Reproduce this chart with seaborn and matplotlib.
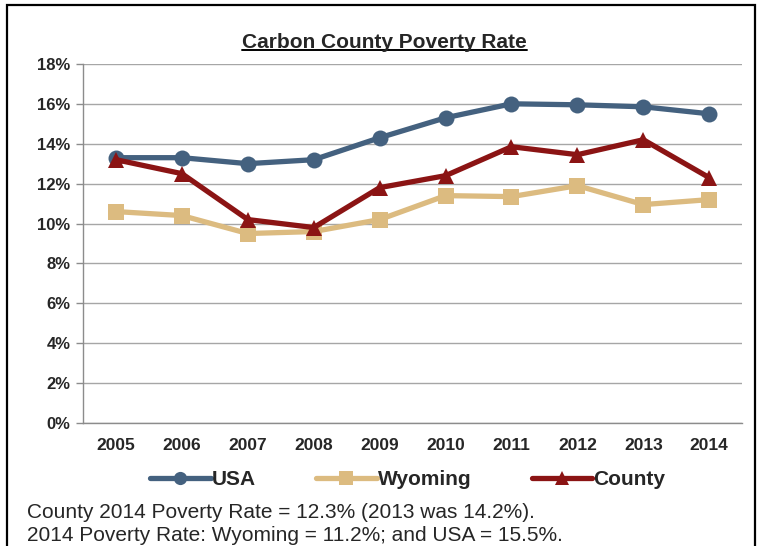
import pandas as pd
import matplotlib.pyplot as plt
import seaborn as sns
from matplotlib.lines import Line2D
from matplotlib.patches import Rectangle
from matplotlib.ticker import FuncFormatter, MultipleLocator

anos = ["2005", "2006", "2007", "2008", "2009", "2010", "2011", "2012", "2013", "2014"]
usa = [13.3, 13.3, 13.0, 13.2, 14.3, 15.3, 16.0, 15.95, 15.85, 15.5]
wyoming = [10.6, 10.4, 9.5, 9.6, 10.2, 11.4, 11.35, 11.9, 10.95, 11.2]
county = [13.2, 12.5, 10.2, 9.8, 11.8, 12.4, 13.85, 13.45, 14.2, 12.3]

series = {"USA": usa, "Wyoming": wyoming, "County": county}
cores = {"USA": "#44617f", "Wyoming": "#dcbb80", "County": "#8b1414"}
marcadores = {"USA": "o", "Wyoming": "s", "County": "^"}

sns.set_style("white")
plt.rcParams["font.family"] = ["Liberation Sans", "DejaVu Sans"]

fig = plt.figure(figsize=(7.62, 5.46), dpi=100)
ax = fig.add_axes([0.109, 0.225, 0.865, 0.658])

x = list(range(len(anos)))
handles = []
for nome, valores in series.items():
    df = pd.DataFrame({"x": x, "y": valores})
    sns.lineplot(data=df, x="x", y="y", ax=ax, color=cores[nome], linewidth=3.8,
                 marker=marcadores[nome], markersize=11.5, markeredgewidth=0)
    handles.append(Line2D([], [], color=cores[nome], linewidth=3.8,
                          marker=marcadores[nome], markersize=9.5, markeredgewidth=0))

ax.set_xlim(-0.5, len(anos) - 0.5)
ax.set_ylim(0, 18)
ax.yaxis.set_major_locator(MultipleLocator(2))
ax.yaxis.set_major_formatter(FuncFormatter(lambda v, p: f"{v:.0f}%"))
ax.grid(axis="y", color="#a6a6a6", linewidth=1)
ax.set_axisbelow(True)

ax.set_xticks(x)
ax.set_xticklabels(anos)
ax.set_xticks([i - 0.5 for i in range(len(anos) + 1)], minor=True)
ax.tick_params(axis="x", which="major", length=0, pad=11)
ax.tick_params(axis="x", which="minor", length=5, color="#8c8c8c", width=1)
ax.tick_params(axis="y", length=5, color="#8c8c8c", width=1, left=True, pad=4)
for lab in ax.get_xticklabels():
    lab.set_fontweight("bold")
    lab.set_fontsize(12.5)
for lab in ax.get_yticklabels():
    lab.set_fontweight("bold")
    lab.set_fontsize(12)

for lado in ["top", "right"]:
    ax.spines[lado].set_visible(False)
for lado in ["left", "bottom"]:
    ax.spines[lado].set_color("#8c8c8c")
    ax.spines[lado].set_linewidth(1)
ax.set_xlabel("")
ax.set_ylabel("")

fig.legend(handles, list(series.keys()), loc="center", bbox_to_anchor=(0.535, 0.121),
           ncol=3, frameon=False, handlelength=2.9, handletextpad=0.05,
           columnspacing=2.9, prop={"weight": "bold", "size": 15})

titulo = fig.text(0.505, 0.923, "Carbon County Poverty Rate", ha="center", va="center",
                  fontsize=15, fontweight="bold")

fig.text(0.035, 0.062, "County 2014 Poverty Rate = 12.3% (2013 was 14.2%).",
         fontsize=15, va="center")
fig.text(0.035, 0.019, "2014 Poverty Rate: Wyoming = 11.2%; and USA = 15.5%.",
         fontsize=15, va="center")

# moldura preta
fig.patches.append(Rectangle((0.0095, -0.05), 0.981, 1.04, transform=fig.transFigure,
                             fill=False, edgecolor="black", linewidth=1.6))

# sublinhado do título
fig.canvas.draw()
bb = titulo.get_window_extent().transformed(fig.transFigure.inverted())
fig.add_artist(Line2D([bb.x0, bb.x1], [bb.y0 + 0.003, bb.y0 + 0.003],
                      transform=fig.transFigure, color="black", linewidth=1.4))

fig.savefig("out.png", dpi=100)
